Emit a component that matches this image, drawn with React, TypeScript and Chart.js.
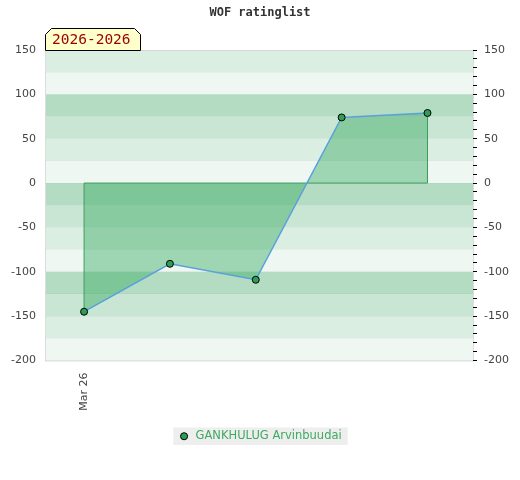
import React, { useEffect, useRef } from "react";
import { Chart, registerables } from "chart.js";

Chart.register(...registerables);

const chartTitle = "WOF ratinglist";
const periodLabel = "2026-2026";
const seriesName = "GANKHULUG Arvinbuudai";
const categories = ["Mar 26", "", "", "", ""];
const xPositions = [0, 1, 2, 3, 4];
const ratingValues = [-145, -91, -109, 74, 79];
const xTickValues = [0];
const yMin = -200;
const yMax = 150;
const yLabelStep = 50;
const yMinorStep = 10;
const bandStep = 25;
const bandColors = ["#b3dcc2", "#eff7f2", "#dbeee2", "#c8e6d3"];

const bandsPlugin = {
  id: "bandsAndFrame",
  beforeDraw(chart: any) {
    const { ctx, chartArea: a, scales } = chart;
    const y = scales.y;
    ctx.save();
    for (let t = yMax; t > yMin; t -= bandStep) {
      const k = (((t / bandStep) % 4) + 4) % 4;
      const top = y.getPixelForValue(t);
      const bot = y.getPixelForValue(t - bandStep);
      ctx.fillStyle = bandColors[k];
      ctx.fillRect(a.left, top, a.right - a.left, bot - top);
    }
    ctx.strokeStyle = "#dddddd";
    ctx.lineWidth = 1;
    ctx.strokeRect(a.left + 0.5, a.top + 0.5, a.right - a.left, a.bottom - a.top);
    const lg = chart.legend;
    if (lg && lg.legendHitBoxes && lg.legendHitBoxes[0]) {
      const h = lg.legendHitBoxes[0];
      ctx.fillStyle = "#eeeeee";
      ctx.fillRect(h.left - 5, h.top - 3, h.width + 11, h.height + 6);
    }
    ctx.restore();
  },
  afterDraw(chart: any) {
    const { ctx, chartArea: a } = chart;
    ctx.save();
    ctx.font = "14.5px 'DejaVu Sans Mono'";
    const tw = ctx.measureText(periodLabel).width;
    const x0 = a.left + 0.5;
    const x1 = Math.round(a.left + tw + 16) + 0.5;
    const y1 = a.top + 0.5;
    const y0 = a.top - 22 + 0.5;
    const c = 6;
    ctx.beginPath();
    ctx.moveTo(x0, y1);
    ctx.lineTo(x0, y0 + c);
    ctx.lineTo(x0 + c, y0);
    ctx.lineTo(x1 - c, y0);
    ctx.lineTo(x1, y0 + c);
    ctx.lineTo(x1, y1);
    ctx.closePath();
    ctx.fillStyle = "#ffffcc";
    ctx.fill();
    ctx.strokeStyle = "#000000";
    ctx.lineWidth = 1;
    ctx.stroke();
    ctx.fillStyle = "#990000";
    ctx.textBaseline = "alphabetic";
    ctx.textAlign = "left";
    ctx.fillText(periodLabel, a.left + 7, a.top - 6);
    ctx.restore();
  },
};

export default function App() {
  const ref = useRef<HTMLCanvasElement | null>(null);

  useEffect(() => {
    if (!ref.current) return;
    Chart.defaults.font.family = "'DejaVu Sans'";
    const last = xPositions.length - 1;
    const chart = new Chart(ref.current, {
      type: "line",
      data: {
        datasets: [
          {
            label: seriesName,
            data: xPositions.map((x, i) => ({ x, y: ratingValues[i] })),
            fill: "origin",
            backgroundColor: "rgba(60,170,100,0.45)",
            borderColor: "#5aa0dc",
            borderWidth: 1.5,
            pointRadius: 3.5,
            pointBackgroundColor: "#2e9e56",
            pointBorderColor: "#000000",
            pointBorderWidth: 1,
            tension: 0,
          },
          {
            label: "outline",
            data: [
              { x: xPositions[0], y: ratingValues[0] },
              { x: xPositions[0], y: 0 },
              { x: xPositions[last], y: 0 },
              { x: xPositions[last], y: ratingValues[last] },
            ],
            fill: false,
            borderColor: "#3a9a5a",
            borderWidth: 1,
            pointRadius: 0,
          },
        ],
      } as any,
      options: {
        animation: false,
        responsive: false,
        devicePixelRatio: 1,
        layout: { padding: { left: 0, right: 0, top: 0, bottom: 28 } },
        plugins: {
          title: {
            display: true,
            text: chartTitle,
            color: "#333333",
            font: { family: "'DejaVu Sans Mono'", size: 12, weight: "bold", lineHeight: 1 },
            padding: { top: 7, bottom: 31 },
          },
          legend: {
            display: true,
            position: "bottom",
            labels: {
              usePointStyle: true,
              boxHeight: 5,
              padding: 10,
              color: "#3daa5f",
              font: { size: 11.5 },
              generateLabels: () => [
                {
                  text: seriesName,
                  fillStyle: "#2e9e56",
                  strokeStyle: "#000000",
                  lineWidth: 1,
                  pointStyle: "circle",
                  datasetIndex: 0,
                  hidden: false,
                  fontColor: "#3daa5f",
                } as any,
              ],
            },
          },
          tooltip: { enabled: false },
        },
        scales: {
          x: {
            type: "linear",
            min: -0.455,
            max: 4.53,
            afterBuildTicks: (s: any) => {
              s.ticks = xTickValues.map((v) => ({ value: v }));
            },
            afterFit: (s: any) => {
              s.height = 60;
            },
            grid: { display: false, drawTicks: false },
            border: { display: false },
            ticks: {
              autoSkip: false,
              minRotation: 90,
              maxRotation: 90,
              padding: 12,
              color: "#444444",
              font: { size: 11 },
              callback: (v: any) => categories[xPositions.indexOf(Number(v))] ?? "",
            },
          },
          y: {
            type: "linear",
            position: "left",
            min: yMin,
            max: yMax,
            afterFit: (s: any) => {
              s.width = 45;
            },
            grid: { display: true, drawTicks: false, color: "rgba(0,0,0,0.03)" },
            border: { display: false },
            ticks: {
              stepSize: bandStep,
              autoSkip: false,
              padding: 9,
              color: "#444444",
              font: { size: 11 },
              callback: (v: any) => (Number(v) % yLabelStep === 0 ? String(v) : ""),
            },
          },
          y2: {
            type: "linear",
            position: "right",
            min: yMin,
            max: yMax,
            afterFit: (s: any) => {
              s.width = 47;
            },
            grid: { drawOnChartArea: false, drawTicks: true, tickLength: 4, color: "#000000" },
            border: { display: false },
            ticks: {
              stepSize: yMinorStep,
              autoSkip: false,
              padding: 7,
              color: "#444444",
              font: { size: 11 },
              callback: (v: any) => (Number(v) % yLabelStep === 0 ? String(v) : ""),
            },
          },
        },
      } as any,
      plugins: [bandsPlugin],
    });
    return () => chart.destroy();
  }, []);

  return (
    <div style={{ position: "absolute", left: 0, top: 0, width: 520, height: 480, background: "#ffffff" }}>
      <canvas ref={ref} width={520} height={480} style={{ width: 520, height: 480 }} />
    </div>
  );
}
